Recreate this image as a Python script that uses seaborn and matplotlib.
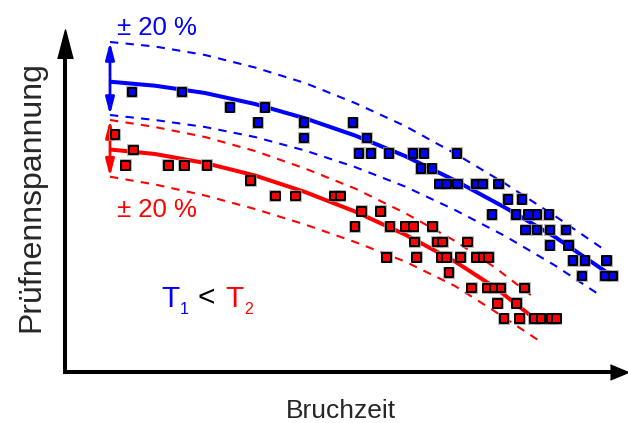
import matplotlib
matplotlib.use("Agg")
import matplotlib.pyplot as plt
import seaborn as sns
import pandas as pd
from matplotlib.patches import FancyArrowPatch

# --- measured creep-rupture points (time, stress) for two temperatures ---
t1_time = [67, 117, 165, 200, 193, 239, 288, 239, 302,
           294, 306, 324, 348, 359, 392, 356, 367,
           374.5, 381.5, 392.5, 411, 417.7, 433.5, 443, 457,
           427, 451, 463.5, 472, 484, 460.5, 472, 485, 501,
           485, 503.5, 508, 520, 541.5, 517, 540, 548]
t1_stress = [280, 280, 264.7, 264.7, 249.3, 249.3, 249.3, 234, 234,
             218.7, 218.7, 218.7, 218.7, 218.7, 218.7, 203.3, 203.3,
             188, 188, 188, 188, 188, 188, 172.7, 172.7,
             157.3, 157.3, 157.3, 157.3, 157.3, 142, 142, 142, 142,
             126.7, 126.7, 111.3, 111.3, 111.3, 96, 96, 96]

t2_time = [50, 68.3, 60.7, 103.3, 119.3, 142, 185.7,
           210.3, 230.7, 269.7, 275.3, 296.5, 315.5,
           290.2, 325, 340.5, 348.3, 367.5,
           349.7, 372.2, 377.7, 402.5,
           321.7, 351.7, 376.7, 381.7, 395.7, 411.7, 418.3, 423.5,
           384.2, 406.7, 422.5, 429.3, 436, 459.7, 432.5, 451.5,
           439.2, 454.7, 469.3, 476, 486, 491.3]
t2_stress = [237.3, 222, 206.7, 206.7, 206.7, 206.7, 191.5,
             176, 176, 176, 176, 160.7, 160.7,
             145.3, 145.3, 145.3, 145.3, 145.3,
             130, 130, 130, 130,
             114.7, 114.7, 114.7, 114.7, 114.7, 114.7, 114.7, 114.7,
             99.3, 84, 84, 84, 84, 84, 68.7, 68.7,
             53.3, 53.3, 53.3, 53.3, 53.3, 53.3]

# --- mean curves and the +/-20 % scatter band ---
t1_mean_x = [45, 90, 140, 190, 240, 290, 340, 390, 440, 490, 542]
t1_mean_y = [290.3, 286.3, 279, 268, 253.7, 236.5, 216, 191.5, 164.5, 135, 99.5]
t1_upper_x = [45, 90, 140, 190, 240, 290, 340, 390, 440, 490, 539]
t1_upper_y = [330, 325.5, 317, 304.5, 289, 269, 246, 218.5, 188.5, 156, 122.5]
t1_lower_x = [45, 90, 140, 190, 240, 290, 340, 390, 440, 490, 537]
t1_lower_y = [257, 252, 245, 235, 221.5, 205, 185.5, 162, 136, 106.5, 75.5]

t2_mean_x = [45, 90, 140, 190, 240, 290, 340, 390, 430, 467]
t2_mean_y = [222.5, 218, 209, 196.5, 180, 160.5, 137.5, 110.5, 84.5, 55.3]
t2_upper_x = [45, 90, 140, 190, 240, 290, 340, 390, 430, 468]
t2_upper_y = [252, 245, 235, 221, 203.5, 183.5, 159, 131, 104.5, 75.3]
t2_lower_x = [45, 90, 140, 190, 240, 290, 340, 390, 430, 473]
t2_lower_y = [195.3, 187.5, 176.5, 163, 147.5, 130, 110.5, 86, 60.5, 32]

BLUE = "#0000ff"
RED = "#ff0000"

sns.set_style("white")
plt.rcParams["font.family"] = ["Liberation Sans", "DejaVu Sans"]

fig = plt.figure(figsize=(6.28, 4.23), dpi=100)
ax = fig.add_axes([65 / 628, 51 / 423, 545 / 628, 314 / 423])
ax.set_xlim(0, 545)
ax.set_ylim(0, 314)

# curves
dash = (0, (4, 3.5))
for xs, ys, col in [(t1_upper_x, t1_upper_y, BLUE), (t1_lower_x, t1_lower_y, BLUE),
                    (t2_upper_x, t2_upper_y, RED), (t2_lower_x, t2_lower_y, RED)]:
    sns.lineplot(x=xs, y=ys, ax=ax, sort=False, estimator=None, color=col,
                 lw=1.5, linestyle=dash, clip_on=False, zorder=2)
for xs, ys, col in [(t1_mean_x, t1_mean_y, BLUE), (t2_mean_x, t2_mean_y, RED)]:
    sns.lineplot(x=xs, y=ys, ax=ax, sort=False, estimator=None, color=col,
                 lw=2.9, clip_on=False, zorder=3, solid_capstyle="butt")

# data points with a soft grey rim
df = pd.DataFrame({
    "time": t1_time + t2_time,
    "stress": t1_stress + t2_stress,
    "temp": ["T1"] * len(t1_time) + ["T2"] * len(t2_time),
})
sns.scatterplot(data=df, x="time", y="stress", ax=ax, marker="s", s=9.0 ** 2,
                color="#9a9a9a", linewidth=0, alpha=0.7, legend=False,
                zorder=4, clip_on=False)
sns.scatterplot(data=df, x="time", y="stress", hue="temp", ax=ax, marker="s",
                s=6.1 ** 2, palette={"T1": BLUE, "T2": RED}, edgecolor="black",
                linewidth=1.45, legend=False, zorder=5, clip_on=False)

# double arrows showing the band width
for y0, y1, col in [(t1_upper_y[0], t1_lower_y[0], BLUE),
                    (t2_upper_y[0], t2_lower_y[0], RED)]:
    arr = FancyArrowPatch((t1_mean_x[0], y0), (t1_mean_x[0], y1),
                          arrowstyle="<|-|>,head_length=10,head_width=2.6",
                          mutation_scale=1, lw=2.0, color=col,
                          shrinkA=0, shrinkB=0, clip_on=False, zorder=3)
    ax.add_patch(arr)

ax.text(52, 337, "± 20 %", color=BLUE, fontsize=18.5, ha="left", va="baseline")
ax.text(52, 155.3, "± 20 %", color=RED, fontsize=18.5, ha="left", va="baseline")

# T1 < T2
ax.text(96, 65.3, "T", color=BLUE, fontsize=21.5, ha="left", va="baseline")
ax.text(115, 58, "1", color=BLUE, fontsize=11.5, ha="left", va="baseline")
ax.text(132.5, 65.3, "<", color="black", fontsize=21.5, ha="left", va="baseline")
ax.text(160, 65.3, "T", color=RED, fontsize=21.5, ha="left", va="baseline")
ax.text(179.5, 58, "2", color=RED, fontsize=11.5, ha="left", va="baseline")

# axis titles
ax.text(276, -46, "Bruchzeit", fontsize=19, ha="center", va="baseline")
ax.text(-34, 175, "Prüfnennspannung", fontsize=23, rotation=90,
        ha="center", va="center")

# axes drawn as arrows
ax.set_xticks([])
ax.set_yticks([])
for side in ["top", "right"]:
    ax.spines[side].set_visible(False)
for side in ["left", "bottom"]:
    ax.spines[side].set_linewidth(2.9)
    ax.spines[side].set_color("black")
    ax.spines[side].set_capstyle("projecting")
ax.plot([554], [0], marker=[(-1, -0.83), (1, 0), (-1, 0.83)], ms=13,
        color="black", clip_on=False, zorder=6)
ax.plot([0], [328.5], marker=[(-0.52, -1), (0, 1), (0.52, -1)], ms=20.9,
        color="black", clip_on=False, zorder=6)
ax.set_xlabel("")
ax.set_ylabel("")

fig.savefig("out.png", dpi=100)
